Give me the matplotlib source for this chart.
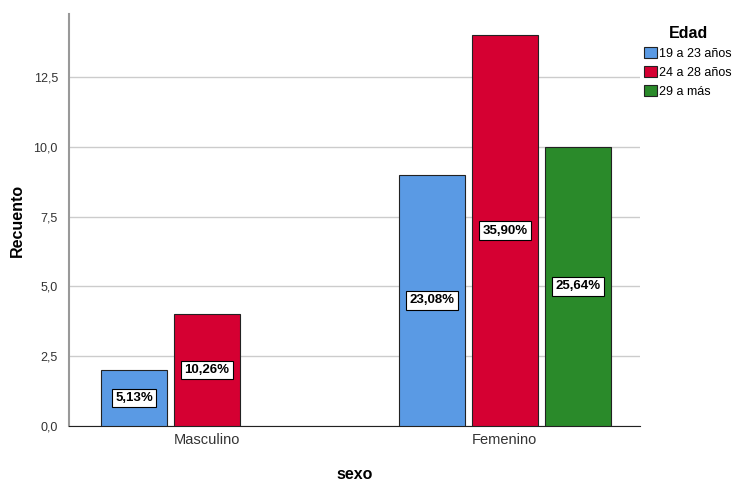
import numpy as np
import matplotlib.pyplot as plt
from matplotlib.patches import Patch
from matplotlib.ticker import FuncFormatter

plt.rcParams['font.family'] = ['Liberation Sans', 'DejaVu Sans']

sexo = ['Masculino', 'Femenino']
edad = ['19 a 23 años', '24 a 28 años', '29 a más']
recuento = {
    '19 a 23 años': [2, 9],
    '24 a 28 años': [4, 14],
    '29 a más': [0, 10],
}
porcentaje = {
    '19 a 23 años': ['5,13%', '23,08%'],
    '24 a 28 años': ['10,26%', '35,90%'],
    '29 a más': ['', '25,64%'],
}
colores = ['#5A9AE4', '#D50032', '#2A8A2A']

fig = plt.figure(figsize=(7.37, 4.83), dpi=100)
ax = fig.add_axes([0.0936, 0.118, 0.7745, 0.853])

x = np.arange(len(sexo))
paso = 0.245
ancho = 0.222
for i, e in enumerate(edad):
    pos = x + (i - 1) * paso
    vals = recuento[e]
    for j in range(len(sexo)):
        if vals[j] == 0:
            continue
        ax.bar(pos[j], vals[j], width=ancho, color=colores[i], edgecolor='#222222', linewidth=0.8, zorder=3)
        ax.text(pos[j], vals[j] / 2, porcentaje[e][j], ha='center', va='center', fontsize=9.5,
                fontweight='bold', fontstretch='condensed', zorder=4,
                bbox=dict(boxstyle='square,pad=0.25', facecolor='white', edgecolor='black', linewidth=0.8))

ax.set_xlim(-0.463, 1.453)
ax.set_ylim(0, 14.76)
ax.set_yticks([0, 2.5, 5, 7.5, 10, 12.5])
ax.yaxis.set_major_formatter(FuncFormatter(lambda v, p: f'{v:.1f}'.replace('.', ',')))
ax.set_xticks(x)
ax.set_xticklabels(sexo, fontsize=10.5, color='#333333')
ax.tick_params(axis='y', labelsize=9, colors='#333333', length=0, pad=8)
ax.tick_params(axis='x', length=0, pad=5)
ax.grid(axis='y', color='#cccccc', linewidth=1, zorder=0)
for s in ['top', 'right']:
    ax.spines[s].set_visible(False)
ax.spines['left'].set_color('#999999')
ax.spines['left'].set_linewidth(1.5)
ax.spines['bottom'].set_color('#222222')
ax.set_ylabel('Recuento', fontsize=11.5, fontweight='bold')
ax.set_xlabel('sexo', fontsize=11.5, fontweight='bold')
ax.yaxis.set_label_coords(-0.077, 0.5)
ax.xaxis.set_label_coords(0.5, -0.1)

handles = [Patch(facecolor=c, edgecolor='#222222', linewidth=0.8) for c in colores]
leg = fig.legend(handles, edad, loc='upper left', bbox_to_anchor=(0.859, 0.97), frameon=False,
                 fontsize=9, title='Edad', handlelength=1.0, handleheight=1.0, handletextpad=0.2,
                 labelspacing=0.5, alignment='center')
leg.get_title().set_fontweight('bold')
leg.get_title().set_fontsize(11.5)

fig.savefig('out.png', dpi=100)
